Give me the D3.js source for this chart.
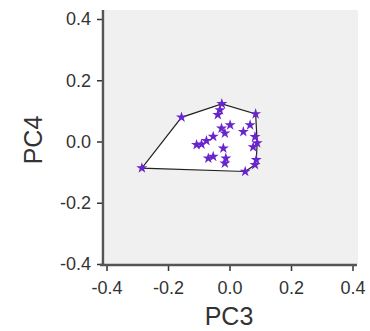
<!DOCTYPE html>
<html>
<head>
<meta charset="utf-8">
<script src="https://cdn.jsdelivr.net/npm/d3@7"></script>
<style>
  body { margin: 0; background: #fff; }
  text { font-family: "Liberation Sans", Arial, sans-serif; fill: #333; }
</style>
</head>
<body>
<svg id="chart" width="370" height="331"></svg>
<script>
// PC3 / PC4 scores
let pc3 = [-0.285, -0.156, -0.025, -0.031, -0.038, 0.085, 0.067, 0.045, 0.002, -0.026,
  -0.015, -0.053, -0.075, -0.107, -0.091, -0.020, -0.053, -0.069, -0.015, -0.012,
  0.083, 0.090, 0.077, 0.087, 0.083, 0.051];
let pc4 = [-0.087, 0.079, 0.123, 0.103, 0.087, 0.090, 0.054, 0.032, 0.054, 0.043,
  0.027, 0.016, 0.002, -0.011, -0.009, -0.022, -0.049, -0.055, -0.071, -0.055,
  0.015, -0.005, -0.018, -0.060, -0.076, -0.098];
let ticks = [-0.4, -0.2, 0.0, 0.2, 0.4];

!(function() {
  let svg = d3.select("#chart");

  let x = d3.scaleLinear().domain([-0.4, 0.4]).range([106.5, 352.5]);
  let y = d3.scaleLinear().domain([-0.4, 0.4]).range([264, 19]);
  let fmt = d => d.toFixed(1);   // plain hyphen, like the original

  // plot background
  svg.append("rect")
    .attr("x", 105).attr("y", 10)
    .attr("width", 253).attr("height", 254)
    .attr("fill", "#f0f0f0");

  let points = pc3.map((d, i) => [x(d), y(pc4[i])]);
  let hull = d3.polygonHull(points);

  svg.append("path")
    .attr("d", "M" + hull.join("L") + "Z")
    .attr("fill", "#fff")
    .attr("stroke", "#222")
    .attr("stroke-width", 1.2);

  svg.selectAll(".pt")
    .data(points)
    .enter().append("path")
    .attr("class", "pt")
    .attr("transform", d => "translate(" + d[0] + "," + d[1] + ")")
    .attr("d", d3.symbol().type(d3.symbolStar).size(38))
    .attr("fill", "#6925cc");

  // y axis
  let ya = svg.append("g")
    .attr("transform", "translate(103,0)")
    .call(d3.axisLeft(y).tickValues(ticks).tickFormat(fmt).tickSize(6).tickSizeOuter(0));
  ya.select(".domain").remove();
  ya.append("line")
    .attr("x1", 0).attr("x2", 0).attr("y1", 10).attr("y2", 266)
    .attr("stroke", "#555").attr("stroke-width", 2.5);
  ya.selectAll(".tick line").attr("stroke", "#333").attr("stroke-width", 1.5);
  ya.selectAll(".tick text")
    .attr("x", -12)
    .style("font-size", "18px")
    .style("font-family", "Liberation Sans, Arial, sans-serif")
    .attr("fill", "#333");

  // x axis
  let xa = svg.append("g")
    .attr("transform", "translate(0,265)")
    .call(d3.axisBottom(x).tickValues(ticks).tickFormat(fmt).tickSize(6).tickSizeOuter(0));
  xa.select(".domain").remove();
  xa.append("line")
    .attr("x1", 100).attr("x2", 357).attr("y1", 0).attr("y2", 0)
    .attr("stroke", "#555").attr("stroke-width", 2.5);
  xa.selectAll(".tick line").attr("stroke", "#333").attr("stroke-width", 1.5);
  xa.selectAll(".tick text")
    .attr("y", 16)
    .style("font-size", "18px")
    .style("font-family", "Liberation Sans, Arial, sans-serif")
    .attr("fill", "#333");

  svg.append("text")
    .attr("x", 229).attr("y", 325)
    .attr("text-anchor", "middle")
    .style("font-size", "25px")
    .text("PC3");

  svg.append("text")
    .attr("transform", "translate(42,140) rotate(-90)")
    .attr("text-anchor", "middle")
    .style("font-size", "25px")
    .text("PC4");
})();
</script>
</body>
</html>
